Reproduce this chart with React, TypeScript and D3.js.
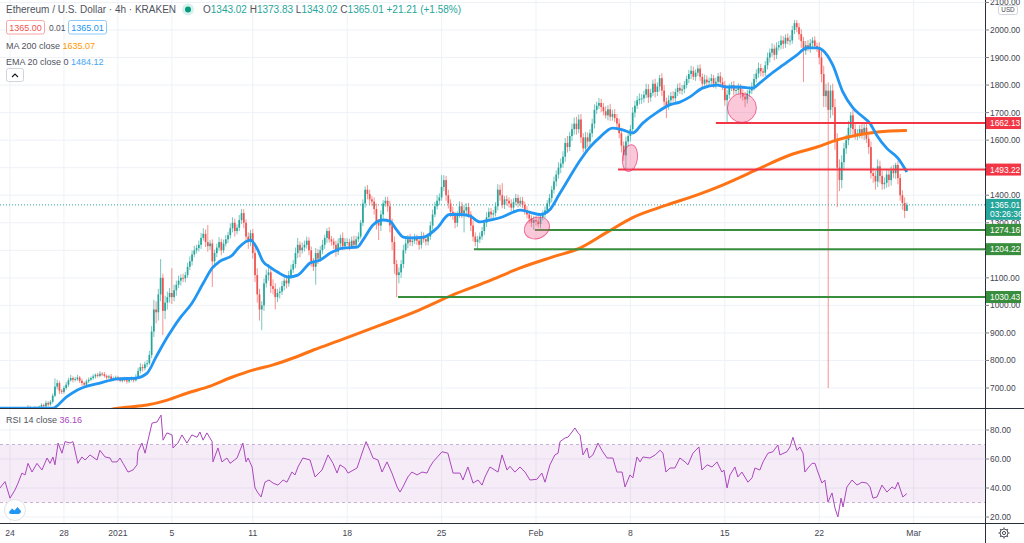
import React from "react";
import * as d3 from "d3";

// ---------- DATA ----------
const START = Date.UTC(2020, 11, 23, 4); // first 4h bar
const BAR = 4 * 3600 * 1000;
const FIRST_OPEN = 610;

// 4h closes, one line per day
const closes = [
  598, 585, 592, 606, 612, // Dec 23
  604, 590, 598, 610, 618, 612,
  616, 624, 630, 622, 626, 628,
  624, 632, 638, 634, 646, 640,
  650, 672, 705, 718, 690, 686,
  700, 712, 728, 736, 730, 732,
  738, 726, 718, 712, 724, 730,
  736, 742, 748, 744, 752, 750,
  744, 738, 742, 732, 736, 738, // Dec 31
  732, 726, 734, 728, 724, 730, // Jan 1
  734, 728, 740, 762, 776, 772,
  786, 790, 820, 905, 985, 975,
  1040, 1100, 980, 1010, 1030, 1045,
  1030, 1055, 1075, 1090, 1100, 1098,
  1110, 1140, 1160, 1185, 1200, 1208,
  1220, 1245, 1260, 1230, 1215, 1225,
  1160, 1190, 1210, 1230, 1200, 1224,
  1240, 1255, 1280, 1300, 1270, 1282,
  1310, 1335, 1300, 1250, 1230, 1262,
  1190, 1110, 1040, 985, 1000, 1080,
  1110, 1120, 1070, 1060, 1030, 1045,
  1050, 1070, 1090, 1080, 1110, 1130,
  1150, 1190, 1220, 1200, 1210, 1220,
  1235, 1200, 1160, 1140, 1190, 1170,
  1200, 1220, 1245, 1270, 1240, 1232,
  1220, 1195, 1225, 1245, 1215, 1230,
  1230, 1215, 1235, 1220, 1240, 1250,
  1300, 1370, 1420, 1405, 1385, 1377,
  1350, 1300, 1290, 1330, 1370, 1380,
  1360, 1290, 1230, 1150, 1110, 1120,
  1150, 1200, 1225, 1240, 1230, 1235,
  1245, 1235, 1220, 1250, 1240, 1232,
  1250, 1290, 1330, 1360, 1380, 1392,
  1430, 1455, 1400, 1370, 1340, 1325,
  1300, 1330, 1360, 1335, 1345, 1357,
  1330, 1290, 1250, 1230, 1240, 1250,
  1270, 1300, 1320, 1340, 1330, 1335,
  1360, 1420, 1400, 1365, 1385, 1380,
  1370, 1355, 1375, 1390, 1370, 1380,
  1365, 1345, 1330, 1315, 1300, 1310, // Jan 31
  1305, 1295, 1320, 1330, 1345, 1370, // Feb 1
  1390, 1420, 1450, 1475, 1500, 1515,
  1540, 1590, 1575, 1615, 1640, 1660,
  1640, 1675, 1610, 1570, 1610, 1595,
  1625, 1660, 1710, 1725, 1735, 1720,
  1705, 1690, 1712, 1685, 1695, 1680,
  1660, 1625, 1580, 1545, 1595, 1615,
  1640, 1700, 1725, 1745, 1750, 1752,
  1765, 1785, 1755, 1772, 1805, 1775,
  1795, 1825, 1780, 1740, 1725, 1745,
  1760, 1752, 1775, 1790, 1780, 1785,
  1800, 1822, 1840, 1852, 1830, 1845,
  1860, 1830, 1805, 1820, 1810, 1815,
  1825, 1805, 1812, 1832, 1810, 1800,
  1745, 1765, 1790, 1800, 1780, 1782,
  1792, 1770, 1758, 1748, 1770, 1780,
  1795, 1822, 1842, 1862, 1850, 1845,
  1872, 1900, 1918, 1932, 1910, 1937,
  1945, 1962, 1950, 1972, 1960, 1962,
  2000, 2025, 2010, 1985, 1960, 1925,
  1945, 1935, 1952, 1962, 1942, 1935,
  1900, 1840, 1760, 1780, 1710, 1780, // Feb 22
  1720, 1600, 1500, 1455, 1520, 1570,
  1600, 1645, 1690, 1640, 1620, 1625,
  1640, 1620, 1645, 1605, 1575, 1480,
  1470, 1450, 1505, 1470, 1440, 1445,
  1475, 1455, 1490, 1480, 1510, 1462,
  1400, 1372, 1343.02, 1365.01, // Feb 28
];

// wick above max(open, close)
const upWick = [
  6, 5, 4, 8, 5,
  5, 4, 6, 5, 7, 4,
  4, 6, 8, 5, 4, 6,
  5, 4, 6, 5, 8, 6,
  6, 8, 30, 12, 8, 6,
  8, 10, 9, 12, 6, 8,
  10, 6, 8, 5, 7, 8,
  6, 8, 5, 7, 9, 6,
  8, 5, 6, 9, 5, 7,
  6, 8, 5, 7, 6, 8,
  8, 6, 10, 12, 14, 10,
  10, 12, 15, 20, 35, 30,
  20, 68, 15, 25, 20, 18,
  90, 20, 15, 18, 12, 15,
  12, 15, 18, 14, 16, 12,
  15, 18, 20, 15, 62, 12,
  15, 12, 14, 18, 12, 15,
  15, 12, 18, 20, 15, 12,
  18, 15, 14, 12, 15, 12,
  15, 20, 25, 20, 15, 18,
  20, 30, 18, 25, 20, 15,
  15, 18, 12, 20, 15, 18,
  15, 20, 25, 12, 18, 15,
  15, 12, 14, 12, 18, 15,
  15, 18, 12, 10, 15, 12,
  12, 15, 18, 12, 20, 14,
  14, 12, 15, 18, 12, 15,
  10, 15, 12, 17, 15, 12,
  15, 20, 12, 15, 12, 14,
  15, 20, 25, 20, 15, 18,
  15, 20, 18, 15, 20, 12,
  15, 12, 14, 18, 15, 12,
  12, 15, 18, 15, 20, 15,
  43, 18, 15, 20, 15, 18,
  15, 12, 18, 15, 20, 14,
  15, 12, 18, 15, 12, 15,
  15, 12, 18, 15, 14, 12,
  15, 20, 18, 44, 12, 14,
  12, 15, 14, 15, 12, 14,
  14, 12, 15, 14, 12, 15,
  15, 14, 12, 15, 14, 12,
  15, 14, 18, 15, 20, 18,
  20, 18, 25, 15, 20, 22,
  25, 18, 20, 15, 20, 18,
  15, 18, 20, 15, 18, 15,
  15, 18, 15, 20, 15, 18,
  15, 18, 20, 15, 18, 15,
  15, 20, 18, 15, 20, 15,
  15, 20, 18, 15, 15, 18,
  15, 12, 18, 20, 15, 18,
  15, 18, 12, 15, 18, 15,
  15, 12, 15, 18, 15, 12,
  13, 15, 12, 18, 15, 12,
  15, 12, 15, 12, 15, 18,
  15, 18, 15, 12, 15, 12,
  15, 12, 15, 18, 12, 15,
  15, 18, 15, 20, 15, 12,
  15, 18, 15, 20, 15, 18,
  15, 18, 15, 12, 15, 18,
  15, 11, 11, 15, 18, 15,
  15, 18, 15, 12, 15, 12,
  20, 25, 30, 25, 30, 20,
  25, 30, 25, 30, 25, 20,
  20, 25, 12, 20, 18, 15,
  15, 20, 15, 18, 15, 20,
  20, 18, 25, 20, 18, 20,
  20, 18, 15, 20, 8, 15,
  15, 18, 20, 8.82,
];

// wick below min(open, close)
const downWick = [
  5, 8, 4, 6, 5,
  6, 8, 4, 5, 6, 5,
  5, 4, 6, 7, 5, 4,
  6, 5, 4, 6, 5, 7,
  4, 6, 5, 10, 12, 8,
  7, 6, 8, 5, 10, 6,
  6, 8, 10, 9, 5, 6,
  5, 6, 8, 6, 5, 7,
  6, 8, 5, 7, 6, 5,
  7, 5, 6, 5, 8, 6,
  6, 8, 5, 7, 9, 12,
  8, 10, 6, 12, 20, 40,
  30, 25, 88, 30, 25, 20,
  25, 15, 20, 12, 18, 14,
  14, 10, 12, 15, 10, 12,
  12, 15, 10, 18, 20, 14,
  93, 20, 15, 12, 18, 10,
  10, 14, 12, 15, 20, 12,
  12, 15, 20, 18, 25, 15,
  20, 25, 30, 40, 75, 20,
  15, 20, 25, 20, 45, 18,
  20, 12, 15, 18, 12, 14,
  12, 15, 18, 25, 12, 14,
  14, 18, 20, 15, 65, 20,
  12, 14, 15, 18, 12, 15,
  15, 18, 12, 14, 15, 12,
  12, 15, 10, 14, 12, 10,
  8, 12, 15, 20, 18, 15,
  20, 25, 53, 20, 15, 12,
  20, 25, 30, 35, 80, 30,
  20, 15, 12, 18, 14, 15,
  12, 15, 18, 14, 12, 15,
  14, 12, 15, 10, 12, 15,
  12, 15, 20, 18, 20, 15,
  20, 15, 12, 18, 70, 15,
  12, 20, 18, 15, 26, 14,
  12, 14, 15, 12, 18, 15,
  12, 15, 20, 12, 15, 18,
  15, 12, 14, 12, 15, 12,
  12, 15, 14, 18, 15, 26,
  15, 12, 15, 12, 14, 12,
  12, 15, 14, 18, 15, 20,
  15, 18, 20, 15, 18, 20,
  20, 15, 20, 15, 18, 20,
  20, 15, 18, 15, 12, 18,
  15, 12, 18, 15, 14, 15,
  20, 18, 25, 20, 52, 15,
  20, 15, 18, 12, 15, 18,
  15, 12, 20, 15, 12, 20,
  15, 18, 20, 15, 45, 15,
  15, 12, 18, 15, 12, 15,
  15, 12, 15, 18, 12, 15,
  12, 15, 18, 12, 15, 12,
  12, 15, 18, 12, 15, 18,
  20, 79, 15, 12, 18, 15,
  15, 18, 15, 28, 15, 12,
  12, 15, 12, 15, 18, 15,
  12, 15, 18, 15, 20, 15,
  12, 15, 18, 15, 12, 15,
  12, 15, 18, 20, 25, 114,
  15, 12, 18, 15, 12, 15,
  25, 30, 40, 40, 1010, 30,
  30, 35, 143, 40, 30, 25,
  20, 18, 25, 20, 18, 20,
  18, 15, 20, 15, 25, 20,
  25, 30, 20, 25, 20, 18,
  18, 25, 20, 18, 20, 22,
  20, 25, 26, 0,
];

// indicators: [bar number, value]
const ema20 = [
  [0, 627], [24, 627], [30, 667], [35, 693], [45, 718], [53, 733], [61, 736], [66, 754],
  [70, 813], [75, 885], [77, 911], [81, 958], [86, 1009], [91, 1081], [95, 1136], [98, 1158],
  [104, 1183], [107, 1212], [112, 1237], [115, 1205], [117.5, 1160], [120.5, 1140], [124, 1121],
  [129, 1103], [133, 1110], [138.5, 1154], [143, 1165], [147.5, 1190], [153, 1208], [159.5, 1212],
  [162, 1237], [166.5, 1292], [171, 1310], [174, 1306], [177, 1274], [180, 1248], [183, 1245],
  [189, 1248], [195, 1281], [200.5, 1330], [205, 1330], [209.5, 1325], [214, 1303], [218.5, 1310],
  [224, 1321], [229, 1339], [232, 1346], [236, 1339], [241, 1330], [245, 1346], [249.5, 1405],
  [254, 1466], [258.5, 1525], [263, 1575], [267.5, 1611], [273, 1644], [277.5, 1637], [282, 1626],
  [286.5, 1662], [293, 1702], [298.5, 1728], [303, 1738], [307.5, 1757], [313, 1789], [319.5, 1800],
  [324, 1793], [329.5, 1793], [335.5, 1789], [338.5, 1807], [343, 1837], [349, 1873], [355, 1909],
  [359.5, 1935], [364, 1935], [366.5, 1927], [371, 1873], [375.5, 1775], [380, 1717], [384.5, 1684],
  [387.5, 1662], [390.5, 1619], [395, 1571], [400, 1535], [404, 1484.12],
];

const ma200 = [
  [40, 608], [54, 627], [57, 630], [66, 638], [75, 656], [84, 682], [93, 704], [104, 740],
  [113, 765], [122, 784], [131, 809], [140, 838], [152, 874], [170, 929], [187, 983],
  [202, 1038], [217, 1085], [232, 1136], [246.5, 1176], [258.5, 1208], [270.5, 1265],
  [282, 1319], [297, 1364], [312, 1405], [322, 1437], [337, 1492], [352, 1546], [364, 1575],
  [373, 1601], [382, 1619], [391, 1630], [404, 1635.07],
];

const rsi14 = [
  [0.5, 40], [2.8, 44.4], [5, 33], [7.2, 38.6], [8.6, 43.4], [10.3, 50.3], [11.7, 49], [13, 57],
  [14.8, 51], [17, 57], [19.2, 52.4], [21.5, 60.7], [22.8, 57], [24.1, 61.4], [25, 56], [26.4, 71],
  [28.1, 64], [29.5, 72], [31.7, 71], [33, 72], [35.2, 57], [37, 61.4], [38.4, 59.3], [40.6, 62.8],
  [43.7, 59.3], [45, 66], [47.3, 61.4], [49.5, 60.7], [50.4, 58], [52.6, 58], [53.9, 60.7],
  [55.3, 57], [57.5, 51], [59.7, 52.4], [61.5, 56], [61.9, 65], [63.7, 71], [65.1, 64], [66.4, 73],
  [68.2, 84.8], [70.4, 85.5], [72.2, 90.3], [73.1, 73], [74.8, 78], [77.1, 76.6], [77.5, 67.6],
  [79.7, 71], [81.5, 76.6], [83.7, 71], [85.9, 76.6], [88.2, 75], [89.5, 78.6], [90.9, 73],
  [92.6, 78], [94.9, 72], [95.3, 58], [97.5, 67.6], [99.3, 58], [101.5, 60.7], [102.9, 57],
  [106, 60.7], [108.6, 71], [110, 58], [110.9, 60.7], [112.7, 54.5], [114, 40], [115.3, 36.6],
  [116.7, 33.8], [118.4, 44], [120.2, 45.5], [122, 43.4], [124.2, 42], [126.5, 45.5], [128.2, 44],
  [130.4, 51], [131.8, 49], [133.1, 54.5], [135.3, 60.7], [138.5, 59.3], [140.7, 47.6],
  [143.8, 52.4], [146.5, 62.8], [148.7, 57], [150.5, 50.3], [151.8, 56], [154, 53.8], [155.4, 50.3],
  [159.4, 53.8], [161.6, 64], [163.4, 72], [165.1, 66], [166.5, 60.7], [168.7, 59.3], [170.5, 51],
  [172.7, 58], [174.9, 50.3], [177.2, 40.7], [178.5, 37.2], [179.8, 40.7], [182, 47.6], [183.8, 51],
  [186.1, 49], [188.3, 51], [190.5, 50.3], [191.8, 54.5], [193.2, 58], [197.2, 65], [199.8, 64],
  [202.1, 50.3], [205.2, 50.3], [206.5, 45.5], [208.7, 54.5], [211, 43.4], [213.2, 45.5], [215, 42],
  [216.3, 47.6], [218.5, 54.5], [222.1, 51], [223.9, 62.8], [226.1, 52.4], [227.4, 55], [229.6, 51],
  [231.9, 54.5], [234.1, 51], [236.3, 45.5], [239.4, 46], [241.6, 50.3], [243, 44], [245.2, 56],
  [247.4, 62.8], [248.8, 64], [249.7, 72], [251.9, 74.5], [253.2, 75], [255, 78.6], [256.3, 81.4],
  [257.7, 78], [258.6, 76.6], [259.9, 62.8], [261.7, 67.6], [262.6, 60.7], [264.3, 62.8], [266.6, 71],
  [268.3, 66], [270.6, 60.7], [273.2, 60.7], [275, 51], [277.3, 51], [278.6, 40.7], [280.8, 49],
  [282.1, 47], [283.9, 61.4], [285.3, 58], [286.6, 61.4], [289.7, 60.7], [292, 62.8], [294.2, 66],
  [295.5, 64], [296.8, 51], [298.6, 53.8], [300.8, 53.8], [303, 60.7], [305.3, 58], [306.6, 56],
  [308.8, 64], [311.5, 68.3], [312.8, 52.4], [315.1, 56], [317.3, 54.5], [319.5, 58], [321.7, 51],
  [322.6, 52.4], [324, 40], [325.3, 49], [327.5, 54.5], [328.8, 47.6], [330.6, 51], [333.3, 44],
  [335.1, 47], [336.4, 53.8], [338.6, 52.4], [340, 58], [342.2, 64], [344.4, 65], [346.6, 69.7],
  [347.5, 62.8], [350.6, 65], [352, 68.3], [353.3, 75], [355.1, 66], [356.4, 68.3], [357.8, 64],
  [358.6, 51], [360, 53.8], [361.8, 57], [363.1, 57], [364.4, 51], [366.2, 43.4], [367.5, 45.5],
  [368.9, 30.3], [370.7, 36.6], [372, 26.2], [373.3, 20], [374.7, 33], [375.6, 26.9], [377.3, 40.7],
  [379.6, 45.5], [381.8, 42], [384, 44], [386.2, 43.4], [387.6, 40.7], [388.9, 33], [390.7, 33.8],
  [392.9, 42], [395.1, 37.2], [397.4, 40.7], [398.7, 39.3], [400, 44], [402.2, 33.8], [404, 36.16],
];

const tickDates = ["2020-12-24", "2020-12-28", "2021-01-01", "2021-01-05", "2021-01-11", "2021-01-18",
  "2021-01-25", "2021-02-01", "2021-02-08", "2021-02-15", "2021-02-22", "2021-03-01"];
const tickLabels = ["24", "28", "2021", "5", "11", "18", "25", "Feb", "8", "15", "22", "Mar"];
const priceTicks = [700, 800, 900, 1000, 1100, 1200, 1300, 1400, 1500, 1600, 1700, 1800, 1900, 2000, 2100];
const rsiTicks = [20, 40, 60, 80];

const levels = [
  { value: 1662.13, fromBar: 319, kind: "res" },
  { value: 1493.22, fromBar: 275.5, kind: "res" },
  { value: 1274.16, fromBar: 238.5, kind: "sup" },
  { value: 1204.22, fromBar: 211.4, kind: "sup" },
  { value: 1030.43, fromBar: 177.6, kind: "sup" },
];

const marks = [
  { bar: 239.4, price: 1281, rx: 13, ry: 10.5, rot: -25 },
  { bar: 280.8, price: 1535, rx: 7.5, ry: 13.5, rot: 8 },
  { bar: 330.6, price: 1717, rx: 14.5, ry: 14.5, rot: 0 },
];

const LAST = 1365.01;

// ---------- STYLE ----------
const FONT = "'Liberation Sans', Arial, sans-serif";
const UP = "#26a69a";
const DOWN = "#ef5350";
const RES = "#f23645";
const SUP = "#388e3c";
const GRID = "#eef1f6";
const AXIS_TXT = "#434651";

export default function App() {
  const barTime = (b: number) => new Date(START + b * BAR);
  const x = d3.scaleUtc().domain([barTime(0), barTime(404)]).range([-1.24, 906.9]);
  const y = d3.scaleLinear().domain([700, 2000]).range([388, 30]);
  const yR = d3.scaleLinear().domain([20, 80]).range([517, 430]);
  const xb = (b: number) => x(barTime(b));

  const candles = closes.map((c, i) => {
    const o = i === 0 ? FIRST_OPEN : closes[i - 1];
    const h = Math.max(o, c) + upWick[i];
    const l = Math.min(o, c) - downWick[i];
    return { b: i, o, h, l, c };
  });

  const smooth = d3.line<number[]>().x((d) => xb(d[0])).y((d) => y(d[1])).curve(d3.curveMonotoneX);
  const rsiLine = d3.line<number[]>().x((d) => xb(d[0])).y((d) => yR(d[1]));

  const PANE_R = 985;
  const MAIN_B = 408;
  const RSI_T = 409;
  const RSI_B = 523;

  const tickX = tickDates.map((d) => x(new Date(d + "T00:00:00Z")));

  return (
    <svg width={1024} height={543} style={{ display: "block", fontFamily: FONT }}>
      <style>{"body{margin:0}"}</style>
      <defs>
        <clipPath id="mainClip"><rect x={0} y={0} width={PANE_R} height={MAIN_B} /></clipPath>
        <clipPath id="rsiClip"><rect x={0} y={RSI_T} width={PANE_R} height={RSI_B - RSI_T} /></clipPath>
      </defs>
      <rect x={0} y={0} width={1024} height={543} fill="#ffffff" />

      {/* grid */}
      {tickX.map((tx, i) => (
        <g key={"vg" + i}>
          <line x1={tx} x2={tx} y1={0} y2={MAIN_B} stroke={GRID} />
          <line x1={tx} x2={tx} y1={RSI_T} y2={RSI_B} stroke={GRID} />
        </g>
      ))}
      {priceTicks.map((p) => (
        <line key={"hg" + p} x1={0} x2={PANE_R} y1={y(p)} y2={y(p)} stroke={GRID} />
      ))}
      {rsiTicks.map((r) => (
        <line key={"rg" + r} x1={0} x2={PANE_R} y1={yR(r)} y2={yR(r)} stroke={GRID} />
      ))}

      {/* main pane */}
      <g clipPath="url(#mainClip)">
        <line x1={0} x2={PANE_R} y1={y(LAST)} y2={y(LAST)} stroke={UP} strokeWidth={1} strokeDasharray="1,2" />
        {candles.map((d) => {
          const cx = xb(d.b);
          const col = d.c >= d.o ? UP : DOWN;
          const top = y(Math.max(d.o, d.c));
          const bot = y(Math.min(d.o, d.c));
          return (
            <g key={"c" + d.b}>
              <line x1={cx} x2={cx} y1={y(d.h)} y2={y(d.l)} stroke={col} strokeWidth={0.9} strokeOpacity={0.7} />
              <rect x={cx - 0.85} y={top} width={1.7} height={Math.max(0.9, bot - top)} fill={col} />
            </g>
          );
        })}
        <path d={smooth(ma200) || ""} fill="none" stroke="#ff7315" strokeWidth={3} />
        <path d={smooth(ema20) || ""} fill="none" stroke="#2196f3" strokeWidth={2.8} />
        {levels.map((lv) => (
          <line key={"lv" + lv.value} x1={xb(lv.fromBar)} x2={PANE_R} y1={y(lv.value)} y2={y(lv.value)}
            stroke={lv.kind === "res" ? RES : SUP} strokeWidth={2} />
        ))}
        {marks.map((m, i) => (
          <ellipse key={"m" + i} cx={xb(m.bar)} cy={y(m.price)} rx={m.rx} ry={m.ry}
            transform={`rotate(${m.rot} ${xb(m.bar)} ${y(m.price)})`}
            fill="rgba(240,98,146,0.35)" stroke="rgba(233,30,99,0.6)" strokeWidth={1} />
        ))}
      </g>

      {/* RSI pane */}
      <g clipPath="url(#rsiClip)">
        <rect x={0} y={yR(70)} width={PANE_R} height={yR(30) - yR(70)} fill="rgba(156,39,176,0.09)" />
        <line x1={0} x2={PANE_R} y1={yR(70)} y2={yR(70)} stroke="#c5b3d6" strokeDasharray="3,3" />
        <line x1={0} x2={PANE_R} y1={yR(30)} y2={yR(30)} stroke="#c5b3d6" strokeDasharray="3,3" />
        <path d={rsiLine(rsi14) || ""} fill="none" stroke="#ab47bc" strokeWidth={1} />
      </g>

      {/* separators */}
      <line x1={0} x2={1024} y1={MAIN_B + 0.5} y2={MAIN_B + 0.5} stroke="#2a2e39" strokeWidth={1} />
      <line x1={0} x2={1024} y1={RSI_B + 0.5} y2={RSI_B + 0.5} stroke="#2a2e39" strokeWidth={1} />
      <rect x={PANE_R + 0.5} y={0} width={1024 - PANE_R} height={543} fill="#ffffff" />
      <line x1={PANE_R + 0.5} x2={PANE_R + 0.5} y1={0} y2={543} stroke="#2a2e39" strokeWidth={1} />
      <line x1={PANE_R} x2={1024} y1={MAIN_B + 0.5} y2={MAIN_B + 0.5} stroke="#2a2e39" strokeWidth={1} />
      <line x1={PANE_R} x2={1024} y1={RSI_B + 0.5} y2={RSI_B + 0.5} stroke="#2a2e39" strokeWidth={1} />

      {/* price axis */}
      {priceTicks.map((p) => (
        <g key={"pt" + p}>
          <line x1={PANE_R} x2={PANE_R + 4} y1={y(p)} y2={y(p)} stroke="#787b86" />
          <text x={990} y={y(p) + 3} fontSize={8.4} fill={AXIS_TXT}>{p.toFixed(2)}</text>
        </g>
      ))}
      <rect x={998.5} y={5.5} width={19} height={9} rx={2} fill="#fff" stroke="#d1d4dc" />
      <text x={1008} y={12.3} fontSize={6.3} fill={AXIS_TXT} textAnchor="middle">USD</text>
      {rsiTicks.map((r) => (
        <g key={"rt" + r}>
          <line x1={PANE_R} x2={PANE_R + 4} y1={yR(r)} y2={yR(r)} stroke="#787b86" />
          <text x={990} y={yR(r) + 3} fontSize={8.4} fill={AXIS_TXT}>{r.toFixed(2)}</text>
        </g>
      ))}

      {/* price tags */}
      {levels.map((lv) => (
        <g key={"tag" + lv.value}>
          <rect x={986} y={y(lv.value) - 6} width={35} height={12} fill={lv.kind === "res" ? RES : SUP} />
          <text x={990} y={y(lv.value) + 3} fontSize={8.4} fill="#fff">{lv.value.toFixed(2)}</text>
        </g>
      ))}
      <rect x={986} y={y(LAST) - 6} width={35} height={21} fill={UP} />
      <text x={990} y={y(LAST) + 3} fontSize={8.4} fill="#fff">{LAST.toFixed(2)}</text>
      <text x={990} y={y(LAST) + 12} fontSize={8.4} fill="#fff">03:26:36</text>

      {/* time axis */}
      {tickX.map((tx, i) => (
        <text key={"tl" + i} x={tx} y={536} fontSize={8.6} fill={AXIS_TXT} textAnchor="middle">{tickLabels[i]}</text>
      ))}
      {/* settings gear */}
      <g transform="translate(1004,533)" fill="none" stroke="#50535e" strokeWidth={1}>
        <circle r={4} />
        <circle r={1.6} />
        {[0, 45, 90, 135, 180, 225, 270, 315].map((a) => (
          <line key={"g" + a} x1={0} y1={-4} x2={0} y2={-5.6} transform={`rotate(${a})`} />
        ))}
      </g>

      {/* legend */}
      <text x={6} y={13} fontSize={10} fill="#50535e">Ethereum / U.S. Dollar · 4h · KRAKEN</text>
      <circle cx={188} cy={9.5} r={6} fill="#d6f0ec" />
      <circle cx={188} cy={9.5} r={3} fill="#089981" />
      <text x={203} y={13} fontSize={10} fill="#50535e">
        O<tspan fill={UP}>1343.02</tspan> H<tspan fill={UP}>1373.83</tspan> L<tspan fill={UP}>1343.02</tspan> C<tspan fill={UP}>1365.01</tspan> <tspan fill={UP}>+21.21 (+1.58%)</tspan>
      </text>
      <rect x={6.5} y={20.5} width={38} height={13.5} rx={2} fill="#fff" stroke="#f7a5a5" />
      <text x={25.5} y={30.5} fontSize={9} fill={DOWN} textAnchor="middle">1365.00</text>
      <text x={49} y={30.5} fontSize={8.4} fill="#50535e">0.01</text>
      <rect x={68.5} y={20.5} width={38} height={13.5} rx={2} fill="#fff" stroke="#8cc8f7" />
      <text x={87.5} y={30.5} fontSize={9} fill="#2196f3" textAnchor="middle">1365.01</text>
      <text x={6} y={48.5} fontSize={9} fill="#50535e">MA 200 close <tspan fill="#ff9800">1635.07</tspan></text>
      <text x={6} y={64.5} fontSize={9} fill="#50535e">EMA 20 close 0 <tspan fill="#42a5f5">1484.12</tspan></text>
      <rect x={6.5} y={68.5} width={17} height={13} rx={2} fill="#fff" stroke="#d1d4dc" />
      <path d="M12,77 L15,74 L18,77" fill="none" stroke="#131722" strokeWidth={1.1} />

      <text x={6} y={423} fontSize={9} fill="#50535e">RSI 14 close <tspan fill="#ab47bc">36.16</tspan></text>

      {/* logo badge */}
      <circle cx={15} cy={510} r={10.5} fill="#fff" stroke="#e0e3eb" />
      <path d="M9,512 L12,508.5 L14.5,510.5 L17.5,507 L21,511 Q21,514 18,514 L11,514 Q9,514 9,512 Z" fill="#2196f3" />
    </svg>
  );
}
